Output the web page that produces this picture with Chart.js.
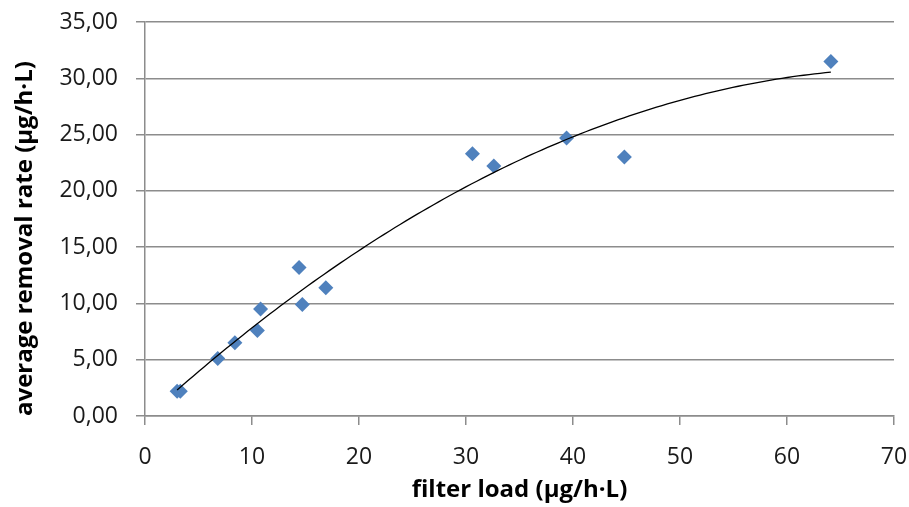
<!DOCTYPE html>
<html>
<head>
<meta charset="utf-8">
<script src="https://cdn.jsdelivr.net/npm/chart.js@4/dist/chart.umd.min.js"></script>
<style>
  html, body { margin: 0; padding: 0; background: #fff; }
  #wrap { width: 909px; height: 507px; }
</style>
</head>
<body>
<div id="wrap"><canvas id="chart"></canvas></div>
<script>
// filter load (x) vs average removal rate (y)
const filterLoad = [3.0, 3.3, 6.8, 8.4, 10.5, 10.8, 14.4, 14.7, 16.9, 30.6, 32.6, 39.4, 44.8, 64.1];
const removalRate = [2.2, 2.2, 5.1, 6.5, 7.6, 9.5, 13.2, 9.9, 11.4, 23.3, 22.2, 24.7, 23.0, 31.5];

const xTicks = [0, 10, 20, 30, 40, 50, 60, 70];
const yTicks = [0, 5, 10, 15, 20, 25, 30, 35];

const xTitle = 'filter load (µg/h·L)';
const yTitle = 'average removal rate (µg/h·L)';

// 2nd order polynomial trendline, least squares (like Excel)
function polyFit2(xs, ys) {
  let n = xs.length, sx = 0, sx2 = 0, sx3 = 0, sx4 = 0, sy = 0, sxy = 0, sx2y = 0;
  for (let i = 0; i < n; i++) {
    const x = xs[i], y = ys[i];
    sx += x; sx2 += x * x; sx3 += x * x * x; sx4 += x * x * x * x;
    sy += y; sxy += x * y; sx2y += x * x * y;
  }
  // solve 3x3 normal equations
  const m = [[n, sx, sx2, sy], [sx, sx2, sx3, sxy], [sx2, sx3, sx4, sx2y]];
  for (let i = 0; i < 3; i++) {
    for (let j = i + 1; j < 3; j++) {
      const f = m[j][i] / m[i][i];
      for (let k = i; k < 4; k++) m[j][k] -= f * m[i][k];
    }
  }
  const c = [0, 0, 0];
  for (let i = 2; i >= 0; i--) {
    let s = m[i][3];
    for (let k = i + 1; k < 3; k++) s -= m[i][k] * c[k];
    c[i] = s / m[i][i];
  }
  return c;
}

const coef = polyFit2(filterLoad, removalRate);
const xMin = Math.min(...filterLoad), xMax = Math.max(...filterLoad);
const trend = [];
for (let i = 0; i <= 120; i++) {
  const x = xMin + (xMax - xMin) * i / 120;
  trend.push({ x: x, y: coef[0] + coef[1] * x + coef[2] * x * x });
}

const points = filterLoad.map((x, i) => ({ x: x, y: removalRate[i] }));

const tickFont = { family: '"Open Sans", sans-serif', size: 23 };
const titleFont = { family: '"Open Sans", sans-serif', size: 24, weight: 'bold' };
const gridGrey = '#8c8c8c';

new Chart(document.getElementById('chart'), {
  type: 'scatter',
  data: {
    datasets: [
      {
        label: 'trend',
        data: trend,
        showLine: true,
        borderColor: '#000',
        borderWidth: 1.3,
        pointRadius: 0,
        fill: false,
        tension: 0,
        order: 0
      },
      {
        label: 'removal',
        data: points,
        pointStyle: 'rectRot',
        pointRadius: 7.5,
        pointBackgroundColor: '#4f81bd',
        pointBorderColor: '#4f81bd',
        pointBorderWidth: 0,
        order: 1
      }
    ]
  },
  options: {
    responsive: true,
    maintainAspectRatio: false,
    animation: false,
    layout: { padding: { top: 22, right: 15, bottom: 2, left: 4 } },
    plugins: { legend: { display: false }, tooltip: { enabled: false } },
    scales: {
      x: {
        type: 'linear',
        min: 0,
        max: 70,
        afterBuildTicks: s => { s.ticks = xTicks.map(v => ({ value: v })); },
        afterFit: s => { s.height = 89; s.paddingLeft = 0; s.paddingRight = 0; },
        ticks: { color: '#1a1a1a', font: tickFont, padding: 19, maxRotation: 0 },
        grid: { drawOnChartArea: false, drawTicks: true, tickLength: 9, color: gridGrey, lineWidth: 1.5 },
        border: { color: gridGrey, width: 1.5 },
        title: { display: true, text: xTitle, color: '#000', font: titleFont, padding: { top: 5, bottom: 0 } }
      },
      y: {
        type: 'linear',
        min: 0,
        max: 35,
        afterBuildTicks: s => { s.ticks = yTicks.map(v => ({ value: v })); },
        afterFit: s => { s.width = 141; s.paddingTop = 0; s.paddingBottom = 0; },
        ticks: {
          color: '#1a1a1a',
          font: tickFont,
          padding: 18,
          callback: v => v.toFixed(2).replace('.', ',')
        },
        grid: { drawTicks: true, tickLength: 9, color: gridGrey, lineWidth: 1.5 },
        border: { color: gridGrey, width: 1.5 },
        title: { display: true, text: yTitle, align: 'start', color: '#000', font: titleFont, padding: { top: 7, bottom: 0 } }
      }
    }
  }
});
</script>
</body>
</html>
